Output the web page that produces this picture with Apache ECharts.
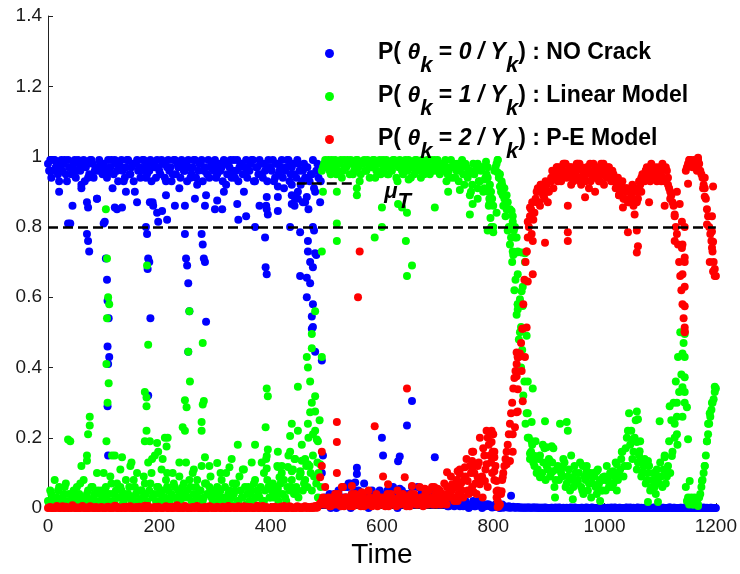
<!DOCTYPE html>
<html>
<head>
<meta charset="utf-8">
<script src="https://cdn.jsdelivr.net/npm/echarts@6/dist/echarts.min.js"></script>
<style>html,body{margin:0;padding:0;background:#fff;}#chart{width:740px;height:574px;}</style>
</head>
<body>
<div id="chart"></div>
<script>
// Sampling grids of the main trajectories: A at 0,4,...,1200 and B at 2,6,...,1198
const timeA = Array.from({length: 301}, (_, i) => i * 4);
const timeB = Array.from({length: 300}, (_, i) => i * 4 + 2);

const xTicks = {min: 0, max: 1200, interval: 200};
const yTicks = {min: 0, max: 1.4, interval: 0.2};
const thresholdLevel = 0.8;
const muLevel = 0.923;
const muSpan = [447, 555];
const muLabelAt = [628, 0.9];

const seriesNames = ['P(θk=0/Yk) : NO Crack', 'P(θk=1/Yk) : Linear Model', 'P(θk=2/Yk) : P-E Model'];
const seriesColors = ['#0000ff', '#00ff00', '#ff0000'];

// ---- P(theta_k = 0 | Y_k) : NO Crack ----
const blueA = [
.98,.99,.96,.99,.97,.93,.99,.98,.95,.99,.81,.97,.99,.96,.98,.92,.99,.97,.94,.99,.98,.96,.88,.99,.97,
.98,.95,.99,.97,.91,.99,.96,.98,.99,.93,.97,.99,.95,.98,.9,.99,.97,.96,.99,.94,.98,.99,.87,.97,.99,
.96,.99,.98,.93,.99,.97,.95,.99,.98,.91,.99,.96,.98,.99,.94,.97,.99,.92,.98,.99,.96,.89,.99,.97,.98,
.99,.95,.98,.97,.99,.92,.98,.99,.96,.94,.99,.97,.98,.9,.99,.96,.98,.99,.93,.97,.99,.95,.98,.86,.99,
.97,.99,.94,.98,.96,.99,.91,.97,.99,.95,.98,.88,.99,.96,.93,.98,.97,.85,.95,.99,.9,.98,.97,.02,.01,
.01,.03,0,.02,.04,.01,.005,.02,.06,.01,.03,0,.02,.05,.01,.03,.02,.07,.01,0,.04,.02,.01,.03,.05,
.02,.01,.04,.03,.01,.06,.02,0,.03,.05,.01,.02,.04,.01,.03,.02,.06,.01,.02,.04,.01,.03,.02,.01,.04,
.02,.01,.03,.01,.02,.005,.01,.02,.01,.03,.005,.01,.02,.01,0,.01,.02,.005,.01,.01,0,.005,.01,.01,.005,
.005,.01,.005,0,.01,.005,.003,.005,.002,.004,.002,.003,.002,.001,.002,.001,.002,.001,.002,.001,.002,.001,.001,.002,.001,
0,.001,0,.002,0,.001,0,0,.001,0,.002,0,.001,0,0,.001,0,.002,0,.001,0,0,.001,0,.001,
.001,0,0,.002,0,.001,0,.001,0,0,.002,0,0,.001,0,.002,0,0,.001,0,.001,0,.002,0,0,
0,.001,0,0,.002,0,.001,0,0,.001,0,.002,0,0,.001,0,.001,0,.002,0,0,.001,0,.001,0,
0];
const blueB = [
.96,.94,.99,.97,.95,.98,.96,.99,.93,.97,.95,.98,.94,.99,.96,.97,.93,.98,.95,.99,.94,.97,.96,.98,.95,
.97,.94,.96,.99,.95,.98,.93,.97,.96,.94,.99,.95,.97,.93,.98,.96,.94,.99,.97,.95,.96,.93,.98,.94,.97,
.95,.98,.94,.97,.96,.93,.99,.95,.97,.94,.98,.96,.93,.97,.95,.99,.94,.96,.98,.93,.97,.95,.94,.98,.96,
.94,.97,.96,.93,.98,.95,.97,.94,.99,.96,.93,.98,.95,.97,.94,.96,.99,.93,.97,.95,.98,.94,.96,.93,.97,
.96,.93,.98,.95,.97,.94,.96,.99,.93,.97,.95,.94,.98,.92,.96,.94,.97,.93,.95,.91,.96,.94,.93,.01,.03,
.02,.04,.01,.03,0,.05,.02,.01,.03,.06,.02,.04,.01,.03,.05,.02,.01,.04,.03,.02,.05,.01,.03,.02,.04,
.03,.01,.05,.02,.04,.01,.03,.02,.05,.01,.04,.03,.02,.06,.01,.03,.02,.04,.01,.05,.02,.03,.01,.04,.02,
.01,.02,.01,.03,.005,.02,.01,.005,.02,.01,.01,.005,.02,.01,.005,.01,.005,.01,.02,.005,.01,.005,.01,.005,.002,
.003,.005,.002,.006,.001,.003,.002,.001,.003,.001,.002,.001,.002,.001,.001,.002,.001,.001,.002,.001,0,.001,0,.001,0,
0,.001,0,0,.002,0,.001,0,0,.001,0,.002,0,0,.001,0,.001,0,0,.002,0,0,.001,0,0,
0,.001,0,0,.002,0,.001,0,0,.001,0,.002,0,0,.001,0,.001,0,0,.002,0,0,.001,0,0,
0,.001,0,0,.002,0,.001,0,0,.001,0,.002,0,0,.001,0,.001,0,0,.002,0,0,.001,0,0];
const blueExtra = [[20,.9],[36,.81],[44,.86],[60,.91],[70,.87],[70,.78],[72,.855],[72,.76],[74,.73],[88,.88],[100,.81],[102,.815],[104,.71],[106,.65],[107,.59],[109,.54],[107,.46],[110,.43],[108,.41],[107,.29],[108,.15],[120,.855],[124,.85],[133,.855],[140,.9],[160,.87],[176,.8],[178,.78],[180,.71],[182,.7],[179,.68],[184,.54],[180,.32],[183,.87],[189,.86],[196,.84],[198,.815],[205,.845],[212,.89],[214,.82],[228,.86],[246,.86],[246,.78],[248,.71],[250,.69],[252,.64],[254,.56],[252,.445],[264,.88],[276,.78],[278,.75],[280,.71],[282,.7],[284,.53],[282,.86],[300,.85],[304,.875],[313,.85],[316,.9],[340,.865],[342,.82],[356,.83],[372,.8],[380,.86],[390,.77],[391,.685],[393,.665],[393,.885],[393,.85],[395,.835],[413,.915],[413,.885],[413,.845],[435,.8],[438,.92],[438,.89],[438,.865],[443,.86],[449,.9],[449,.88],[453,.785],[453,.66],[458,.87],[465,.885],[462,.87],[465,.655],[465,.6],[467,.76],[467,.73],[471,.7],[471,.64],[476,.8],[478,.79],[480,.725],[482,.72],[476,.685],[476,.58],[474,.545],[476,.515],[474,.51],[480,.445],[489,.87],[492,.42],[494,.15],[492,.1],[498,.025],[515,.04],[528,.03],[543,.07],[555,.115],[555,.097],[552,.073],[540,.07],[600,.2],[602,.15],[632,.147],[629,.133],[632,.055],[645,.235],[654,.305],[695,.145],[832,.035]];

// ---- P(theta_k = 1 | Y_k) : Linear Model ----
const greenA = [
.02,.05,.01,.08,.03,.06,.02,.04,.07,.01,.19,.03,.02,.06,.04,.01,.08,.03,.05,.02,.06,.04,.1,.02,.05,
.03,.06,.02,.09,.04,.01,.07,.03,.05,.02,.08,.04,.12,.03,.06,.1,.02,.05,.09,.04,.13,.07,.03,.15,.06,
.04,.11,.02,.08,.05,.03,.1,.06,.02,.09,.04,.07,.13,.03,.06,.1,.02,.08,.05,.12,.03,.07,.04,.09,.02,
.01,.06,.03,.08,.02,.1,.04,.01,.07,.05,.02,.09,.03,.11,.01,.06,.04,.02,.08,.05,.03,.13,.02,.14,.06,
.03,.07,.05,.12,.04,.1,.08,.02,.15,.06,.11,.14,.05,.09,.18,.07,.12,.2,.1,.15,.22,.13,.25,.96,.98,
.97,.99,.95,.98,.99,.96,.98,.94,.99,.97,.98,.99,.95,.97,.99,.93,.98,.99,.96,.98,.97,.99,.94,.98,.99,
.96,.98,.99,.95,.97,.99,.98,.93,.99,.96,.98,.97,.99,.94,.98,.99,.96,.97,.99,.95,.98,.97,.99,.96,.98,
.99,.95,.97,.98,.93,.96,.99,.97,.94,.98,.96,.99,.92,.97,.95,.9,.98,.96,.88,.93,.97,.91,.95,.86,.9,
.8,.97,.99,.95,.92,.88,.85,.8,.77,.72,.65,.58,.5,.45,.36,.27,.2,.16,.13,.19,.11,.15,.1,.17,.12,
.14,.1,.17,.08,.12,.24,.09,.13,.07,.11,.15,.06,.1,.08,.13,.05,.09,.12,.07,.03,.1,.06,.11,.08,.05,
.09,.12,.06,.1,.07,.13,.08,.11,.16,.12,.2,.27,.22,.16,.25,.13,.19,.1,.14,.08,.12,.06,.1,.04,.09,
.13,.06,.15,.09,.19,.25,.3,.36,.43,.5,.44,.33,.02,.01,.03,.01,.02,.01,.04,.08,.12,.19,.24,.28,.31,
.34];
const greenB = [
.01,.04,.03,.02,.05,.01,.03,.06,.02,.04,.01,.05,.03,.02,.07,.03,.01,.04,.02,.06,.03,.01,.05,.04,.02,
.05,.02,.04,.07,.02,.05,.03,.06,.01,.04,.03,.06,.02,.08,.04,.02,.05,.03,.07,.02,.05,.1,.04,.02,.06,
.02,.05,.03,.06,.02,.04,.07,.03,.05,.02,.06,.03,.05,.08,.02,.04,.06,.03,.05,.02,.07,.04,.06,.03,.05,
.04,.02,.05,.03,.06,.02,.05,.03,.04,.07,.02,.05,.03,.06,.04,.02,.05,.07,.03,.04,.06,.02,.05,.08,.03,
.05,.03,.06,.02,.07,.04,.03,.06,.05,.08,.04,.06,.03,.1,.05,.08,.06,.12,.05,.09,.07,.1,.06,.97,.99,
.98,.96,.99,.97,.95,.98,.99,.96,.97,.99,.95,.98,.96,.99,.97,.95,.98,.96,.99,.94,.97,.99,.96,.98,.95,
.99,.97,.95,.98,.96,.99,.94,.97,.98,.95,.99,.96,.98,.97,.95,.99,.98,.94,.96,.98,.99,.95,.97,.99,.96,
.97,.98,.96,.99,.95,.97,.94,.98,.96,.93,.97,.95,.98,.94,.96,.92,.95,.97,.93,.96,.9,.94,.97,.92,.88,
.96,.98,.94,.9,.86,.83,.79,.75,.7,.62,.55,.48,.4,.32,.24,.2,.14,.18,.12,.1,.14,.09,.13,.08,.11,
.09,.13,.06,.11,.08,.1,.14,.06,.09,.05,.08,.12,.07,.1,.06,.04,.08,.05,.1,.07,.09,.04,.07,.05,.08,
.05,.08,.1,.06,.09,.05,.1,.14,.09,.17,.12,.18,.14,.2,.11,.15,.09,.12,.07,.1,.05,.08,.06,.11,.07,
.09,.11,.07,.12,.1,.16,.2,.26,.33,.38,.47,.06,.03,.02,.01,.03,.02,.03,.06,.1,.15,.21,.26,.3,.33];
const greenExtra = [[36,.195],[60,.12],[75,.26],[75,.235],[72,.21],[70,.15],[70,.135],[100,.1],[104,.85],[106,.71],[108,.6],[110,.58],[106,.54],[105,.41],[109,.355],[107,.3],[105,.19],[115,.15],[120,.15],[133,.145],[130,.11],[150,.13],[180,.465],[174,.33],[177,.315],[177,.29],[178,.69],[177,.22],[174,.19],[183,.19],[196,.185],[210,.2],[215,.2],[213,.175],[198,.16],[206,.14],[187,.14],[214,.1],[236,.13],[252,.445],[255,.36],[246,.307],[249,.287],[246,.22],[242,.23],[254,.56],[262,.11],[278,.47],[280,.305],[278,.295],[276,.245],[276,.22],[282,.145],[304,.128],[326,.116],[290,.12],[310,.1],[330,.14],[341,.18],[350,.11],[366,.13],[372,.18],[393,.34],[395,.318],[391,.23],[395,.167],[393,.148],[393,.113],[388,.1],[413,.16],[413,.117],[416,.088],[413,.055],[420,.12],[438,.24],[435,.205],[435,.16],[431,.117],[438,.105],[449,.345],[449,.22],[443,.14],[456,.135],[462,.14],[467,.125],[453,.105],[465,.43],[467,.4],[471,.36],[474,.3],[471,.273],[467,.24],[480,.318],[480,.275],[476,.21],[483,.195],[485,.19],[489,.125],[474,.455],[474,.495],[492,.43],[485,.03],[480,.56],[492,.73],[494,.9],[519,.9],[519,.81],[519,.76],[555,.89],[555,.91],[600,.855],[600,.8],[587,.77],[629,.865],[636,.855],[645,.84],[643,.76],[654,.69],[645,.66],[648,.935],[695,.855],[719,.9],[740,.905],[758,.89],[758,.835],[763,.865],[772,.98],[772,.91],[790,.94],[790,.79],[797,.8],[781,.97],[785,.935],[790,.905],[793,.88],[800,.86],[806,.84],[808,.99],[808,.955],[812,.915],[817,.89],[824,.87],[830,.85],[835,.83],[839,.8],[842,.77],[844,.73],[857,.725],[787,.985],[789,.94],[791,.9],[793,.865],[795,.825],[797,.8],[800,.785],[815,.93],[820,.91],[824,.89],[826,.87],[833,.845],[835,.815],[837,.79],[839,.77],[835,.73],[842,.727],[851,.727],[857,.7],[844,.665],[853,.63],[851,.617],[848,.594],[844,.58],[853,.575],[844,.565],[850,.515],[851,.51],[860,.49],[862,.36],[871,.34],[862,.27],[869,.245],[869,.19],[866,.155],[875,.148],[880,.105],[884,.088],[893,.247],[889,.18],[896,.173],[905,.176],[902,.134],[907,.105],[911,.03],[932,.245],[934,.22],[925,.116],[941,.088],[943,.025],[952,.074],[961,.12],[968,.105],[977,.09],[986,.105],[992,.02],[997,.088],[1006,.077],[1015,.105],[1022,.125],[1031,.16],[1042,.22],[1058,.275],[1060,.253],[1051,.196],[1058,.188],[1063,.162],[1067,.134],[1069,.102],[1078,.134],[1078,.017],[1090,.077],[1096,.017],[1108,.145],[1099,.247],[1112,.105],[1117,.29],[1130,.3],[1126,.24],[1130,.21],[1131,.18],[1121,.148],[1140,.26],[1144,.372],[1144,.43],[1144,.495],[1140,.344],[1144,.3],[1148,.287],[1150,.196],[1153,.077],[1157,.025],[1168,.006],[1175,.077],[1180,.12],[1184,.19],[1186,.24],[1189,.27],[1193,.3],[1198,.345]];

// ---- P(theta_k = 2 | Y_k) : P-E Model ----
const redA = [
0,.003,0,.001,.006,0,.002,0,.004,0,.001,.008,0,.002,0,.003,0,.001,0,.005,.002,0,.001,0,.003,
.001,0,.004,0,.002,.007,0,.001,0,.003,0,.002,.005,0,.001,0,.004,0,.002,0,.006,0,.001,.003,0,
.002,0,.001,.005,0,.003,0,.001,.008,0,.002,0,.004,0,.001,.003,0,.006,0,.002,0,.001,0,.004,.001,
0,.004,.001,0,.002,0,.006,0,.003,.001,0,.002,0,.005,0,.001,.003,0,.002,.007,0,.001,0,.003,0,
0,.002,.004,0,.001,0,.006,.002,0,.003,0,.001,.005,0,.002,.004,0,.003,.001,0,.006,.002,.01,.02,.01,
.01,.03,.005,.02,.04,.01,.02,.06,.005,.03,.01,.02,.005,.04,.01,.02,.03,.005,.01,.05,.02,.01,.03,.005,.02,
.01,.03,.02,.005,.04,.01,.02,.05,.01,.03,.02,.005,.01,.04,.02,.03,.01,.06,.02,.01,.03,.05,.02,.01,.04,
.02,.05,.03,.07,.01,.04,.09,.03,.06,.02,.11,.05,.08,.14,.04,.1,.16,.07,.12,.2,.09,.15,.22,.18,.13,
.21,.12,.05,.01,.08,.12,.16,.21,.27,.34,.39,.43,.44,.51,.65,.73,.8,.85,.82,.88,.9,.86,.91,.88,.92,
.9,.94,.91,.96,.93,.97,.95,.98,.94,.96,.92,.97,.95,.98,.93,.96,.94,.97,.91,.95,.98,.94,.96,.93,.97,
.96,.94,.97,.93,.95,.91,.94,.9,.93,.88,.91,.87,.89,.86,.9,.88,.92,.95,.93,.97,.95,.98,.94,.96,.97,
.95,.98,.93,.96,.91,.89,.86,.8,.75,.66,.58,.5,.97,.99,.98,.99,.97,.99,.96,.94,.91,.85,.8,.76,.7,
.66];
const redB = [
.002,0,.001,0,.003,0,.005,0,.001,.002,0,.004,0,.001,0,.006,0,.002,0,.001,0,.003,0,.002,0,
0,.003,0,.001,0,.005,0,.002,.001,0,.004,0,.001,0,.003,0,.002,0,.007,0,.001,0,.002,0,.004,
.001,0,.003,0,.002,0,.004,.001,0,.002,0,.006,0,.001,0,.002,.004,0,.001,0,.003,0,.005,0,.002,
0,.002,0,.004,0,.001,0,.003,0,.002,.005,0,.001,0,.004,0,.002,0,.001,0,.003,.006,0,.002,0,
.003,0,.001,0,.004,.002,0,.001,.005,0,.002,0,.003,.001,0,.005,.002,0,.004,.002,.001,.008,.015,.03,.02,
.02,.005,.03,.01,.02,.04,.005,.01,.03,.02,.005,.04,.01,.03,.02,.005,.04,.02,.01,.03,.005,.02,.04,.01,.03,
.02,.005,.04,.01,.03,.02,.005,.03,.02,.04,.01,.03,.005,.02,.04,.01,.02,.03,.005,.04,.01,.02,.03,.06,.01,
.03,.01,.04,.02,.06,.03,.05,.02,.08,.04,.07,.03,.09,.05,.12,.06,.1,.04,.13,.08,.17,.11,.06,.15,.1,
.08,.03,.005,.04,.1,.14,.18,.24,.3,.37,.41,.43,.47,.58,.7,.77,.83,.87,.84,.9,.87,.92,.89,.93,.9,
.93,.96,.94,.97,.95,.93,.96,.98,.95,.97,.94,.96,.98,.94,.97,.95,.93,.96,.98,.94,.96,.97,.93,.95,.98,
.95,.97,.94,.96,.93,.92,.89,.92,.88,.9,.87,.9,.88,.91,.87,.93,.9,.94,.96,.94,.97,.95,.97,.93,.95,
.96,.94,.97,.92,.9,.87,.83,.78,.7,.62,.54,.96,.98,.99,.97,.98,.96,.98,.95,.92,.88,.83,.78,.73,.68];
const redExtra = [[492,.16],[492,.12],[489,.088],[519,.245],[519,.188],[519,.1],[557,.6],[560,.73],[587,.233],[645,.34],[602,.09],[641,.088],[717,.102],[740,.097],[498,.06],[530,.06],[546,.063],[564,.045],[611,.068],[654,.063],[677,.055],[690,.06],[700,.055],[717,.06],[726,.068],[736,.105],[743,.074],[735,.06],[749,.116],[754,.077],[762,.16],[762,.134],[763,.116],[772,.088],[776,.068],[785,.077],[788,.125],[790,.2],[797,.22],[799,.145],[802,.16],[781,.03],[765,.045],[797,.215],[797,.188],[799,.16],[802,.145],[802,.105],[806,.077],[806,.048],[808,.02],[808,.003],[815,.048],[817,.088],[824,.125],[830,.134],[835,.16],[835,.21],[839,.23],[842,.273],[844,.275],[853,.304],[844,.338],[851,.39],[842,.375],[844,.43],[857,.43],[842,.443],[853,.51],[860,.514],[862,.645],[871,.665],[860,.73],[869,.78],[871,.76],[862,.815],[866,.855],[878,.87],[880,.91],[893,.755],[934,.86],[934,.785],[934,.76],[965,.884],[983,.9],[1033,.855],[1042,.785],[1058,.79],[1060,.745],[1058,.727],[1054,.835],[1080,.87],[1108,.86],[1126,.76],[1144,.8],[1130,.9],[1135,.865],[1126,.835],[1139,.815],[1140,.75],[1139,.74],[1144,.713],[1144,.7],[1140,.665],[1144,.63],[1144,.574],[1144,.514],[1144,.503],[1180,.94],[1180,.886],[1184,.807],[1193,.83],[1193,.787],[1195,.758],[1193,.741],[1189,.7],[1195,.673],[1198,.66],[1195,.915],[1168,.997],[1153,.99],[1162,.97],[1150,.923],[1177,.91],[885,.92],[890,.89],[898,.87],[904,.93],[910,.96],[915,.97],[920,.94],[926,.98],[930,.95],[938,.97],[944,.93],[948,.96],[955,.98],[958,.92],[964,.95],[970,.97],[975,.93],[981,.96],[988,.94],[994,.98],[999,.92],[1010,.95],[1018,.93],[1026,.89],[1038,.91],[1046,.88],[1050,.92],[1062,.9],[1066,.94],[1074,.96],[1082,.93],[1086,.97],[1094,.95],[1102,.93],[1106,.97],[1114,.94],[1118,.88]];

const FONT = '"Liberation Sans", Arial, Helvetica, sans-serif';
const baseTok = {fontFamily: FONT, fontSize: 23, fontWeight: 'bold', color: '#000', lineHeight: 25, verticalAlign: 'top'};
const legendRich = {
  p: Object.assign({}, baseTok, {padding: [0, 0, 0, 39]}),
  b: Object.assign({}, baseTok),
  i: Object.assign({}, baseTok, {fontStyle: 'italic'}),
  k: Object.assign({}, baseTok, {fontSize: 22, fontStyle: 'italic', padding: [14, 0, 0, 0]})
};
const legendText = {};
legendText[seriesNames[0]] = '{p|P( }{i|θ}{k|k}{b| = }{i|0 / Y}{k|k}{b|) : NO Crack}';
legendText[seriesNames[1]] = '{p|P( }{i|θ}{k|k}{b| = }{i|1 / Y}{k|k}{b|) : Linear Model}';
legendText[seriesNames[2]] = '{p|P( }{i|θ}{k|k}{b| = }{i|2 / Y}{k|k}{b|) : P-E Model}';

function build(a, b, extra) {
  return timeA.map((t, i) => [t, a[i]]).concat(timeB.map((t, i) => [t, b[i]]), extra);
}
const allData = [build(blueA, blueB, blueExtra), build(greenA, greenB, greenExtra), build(redA, redB, redExtra)];

const chart = echarts.init(document.getElementById('chart'), null, {renderer: 'canvas'});
const option = {
  animation: false,
  backgroundColor: '#fff',
  grid: {left: 48, right: 24, top: 16, bottom: 65, containLabel: false},
  xAxis: {
    type: 'value', min: xTicks.min, max: xTicks.max, interval: xTicks.interval,
    name: 'Time', nameLocation: 'middle', nameGap: 30,
    nameTextStyle: {fontFamily: FONT, fontSize: 28, color: '#000'},
    axisLine: {show: true, onZero: false, lineStyle: {color: '#222', width: 1}},
    axisTick: {show: true, inside: true, length: 5, lineStyle: {color: '#222'}},
    axisLabel: {fontFamily: FONT, fontSize: 19, color: '#1a1a1a', margin: 9, formatter: v => String(v)},
    splitLine: {show: false}
  },
  yAxis: {
    type: 'value', min: yTicks.min, max: yTicks.max, interval: yTicks.interval,
    axisLine: {show: true, onZero: false, lineStyle: {color: '#222', width: 1}},
    axisTick: {show: true, inside: true, length: 5, lineStyle: {color: '#222'}},
    axisLabel: {fontFamily: FONT, fontSize: 19, color: '#1a1a1a', margin: 6},
    splitLine: {show: false}
  },
  legend: {
    orient: 'vertical', left: 320, top: 36, itemWidth: 9, itemHeight: 9, itemGap: 7,
    icon: 'circle', data: seriesNames, selectedMode: false,
    formatter: name => legendText[name],
    textStyle: {rich: legendRich}
  },
  series: seriesNames.map((name, s) => ({
    name: name, type: 'scatter', data: allData[s], symbol: 'circle', symbolSize: 8,
    clip: false, z: 2 + s,
    itemStyle: {color: seriesColors[s], opacity: 1},
    emphasis: {disabled: true}
  })).concat([{
    name: 'refs', type: 'scatter', data: [], z: 10,
    markLine: {
      silent: true, symbol: 'none', animation: false,
      lineStyle: {color: '#000', type: [10, 5], width: 2.5},
      label: {show: false},
      data: [
        {yAxis: thresholdLevel},
        [{coord: [muSpan[0], muLevel]}, {coord: [muSpan[1], muLevel]}]
      ]
    },
    markPoint: {
      silent: true, symbol: 'circle', symbolSize: 1, animation: false,
      itemStyle: {color: 'rgba(0,0,0,0)'},
      label: {
        show: true, position: 'inside', formatter: '{m|μ}{t|T}',
        rich: {
          m: {fontFamily: FONT, fontSize: 22, fontWeight: 'bold', fontStyle: 'italic', color: '#000', lineHeight: 22, verticalAlign: 'top'},
          t: {fontFamily: FONT, fontSize: 22, fontWeight: 'bold', fontStyle: 'italic', color: '#000', lineHeight: 22, verticalAlign: 'top', padding: [10, 0, 0, 0]}
        }
      },
      data: [{coord: muLabelAt}]
    }
  }])
};
chart.setOption(option);
</script>
</body>
</html>
